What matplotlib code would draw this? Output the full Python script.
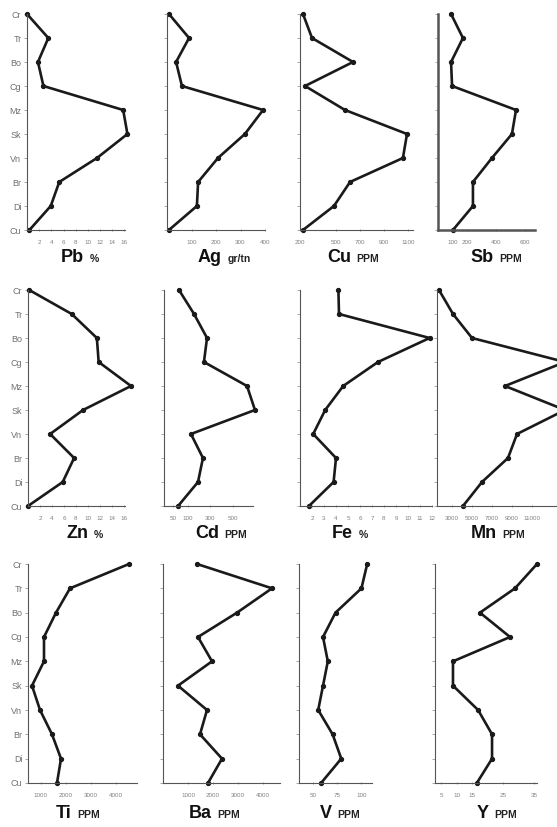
#Geochemical profiles of 12 elements across the stratigraphic levels
import numpy as np; import matplotlib.pyplot as plt
from matplotlib.offsetbox import TextArea, HPacker, AnnotationBbox

plt.rcParams['font.family'] = ['Liberation Sans', 'DejaVu Sans']

#Data
levels = ['Cr', 'Tr', 'Bo', 'Cg', 'Mz', 'Sk', 'Vn', 'Br', 'Di', 'Cu']
pb = [0, 3.5, 1.8, 2.7, 15.8, 16.5, 11.5, 5.3, 3.9, 0.4]
ag = [8, 90, 37, 61, 392, 318, 208, 127, 122, 8]
cu = [225, 300, 642, 242, 575, 1092, 1058, 617, 483, 225]
sb = [90, 172, 90, 97, 538, 510, 372, 241, 241, 103]
zn = [0.2, 7.3, 11.5, 11.8, 17.2, 9.2, 3.7, 7.7, 5.8, 0]
cd = [70, 155, 273, 245, 622, 691, 127, 236, 191, 67]
fe = [4.2, 4.25, 11.8, 7.5, 4.6, 3.1, 2.1, 4.0, 3.8, 1.75]
mn = [1700, 3100, 5000, 14300, 8300, 14300, 9500, 8600, 6000, 4100]
ti = [4540, 2180, 1620, 1140, 1140, 660, 980, 1460, 1820, 1660]
ba = [1360, 4360, 2960, 1400, 1960, 600, 1760, 1480, 2360, 1800]
v = [106, 100, 73, 60, 65, 60, 55, 70, 79, 58]
y = [35.9, 28.8, 17.5, 27.2, 8.8, 8.8, 16.9, 21.4, 21.4, 16.5]

#x ticks
pb_ticks = [2, 4, 6, 8, 10, 12, 14, 16]
ag_ticks = [100, 200, 300, 400]
cu_ticks = [200, 500, 700, 900, 1100]
sb_ticks = [100, 200, 400, 600]
zn_ticks = [2, 4, 6, 8, 10, 12, 14, 16]
cd_ticks = [50, 100, 300, 500]
fe_ticks = [2, 3, 4, 5, 6, 7, 8, 9, 10, 11, 12]
mn_ticks = [3000, 5000, 7000, 9000, 11000]
ti_ticks = [1000, 2000, 3000, 4000]
ba_ticks = [1000, 2000, 3000, 4000]
v_ticks = [50, 75, 100]
y_ticks = [5, 10, 15, 25, 35]

#the hand drawn Cd axis is not linear: value -> relative position
cd_scale_val = [0, 50, 100, 300, 500, 700]
cd_scale_pos = [0, 9, 24, 46, 69, 92]

W, H = 557, 827
fig = plt.figure(figsize=(W/100, H/100), dpi=100)

#(element, unit, values, ticks, xlim, box in px: left,right,top,bottom, title centre px)
panels = [
 ('Pb', '%', pb, pb_ticks, (0, 16.1), (27, 125, 14, 230), (80, 258)),
 ('Ag', 'gr/tn', ag, ag_ticks, (0, 400), (167, 265, 14, 230), (224, 258)),
 ('Cu', 'PPM', cu, cu_ticks, (200, 1142), (300, 413, 14, 230), (353, 258)),
 ('Sb', 'PPM', sb, sb_ticks, (0, 669), (438, 535, 14, 230), (496, 258)),
 ('Zn', '%', zn, zn_ticks, (0, 16.2), (28, 125, 290, 506), (85, 533)),
 ('Cd', 'PPM', cd, cd_ticks, (0, 674), (164, 253, 290, 506), (221, 533)),
 ('Fe', '%', fe, fe_ticks, (1, 12), (300, 432, 290, 506), (350, 533)),
 ('Mn', 'PPM', mn, mn_ticks, (1500, 13800), (437, 560, 290, 506), (498, 533)),
 ('Ti', 'PPM', ti, ti_ticks, (500, 4860), (28, 137, 564, 783), (78, 813)),
 ('Ba', 'PPM', ba, ba_ticks, (0, 4680), (163, 280, 564, 783), (214, 813)),
 ('V', 'PPM', v, v_ticks, (35, 111), (299, 372, 564, 783), (340, 813)),
 ('Y', 'PPM', y, y_ticks, (3, 35.9), (435, 537, 564, 783), (497, 813)),
]

for i, (el, unit, vals, ticks, xlim, box, tc) in enumerate(panels):
    l, r, t, b = box
    ax = fig.add_axes([l/W, 1-b/H, (r-l)/W, (b-t)/H])
    if el == 'Cd':
        ax.set_xscale('function', functions=(
            lambda x: np.interp(x, cd_scale_val, cd_scale_pos),
            lambda p: np.interp(p, cd_scale_pos, cd_scale_val)))
    ax.plot(vals, np.arange(len(levels)), color='#1a1a1a', lw=1.9,
            marker='o', ms=2.8, clip_on=False)
    ax.set_xlim(*xlim)
    ax.set_ylim(len(levels)-1, 0)
    ax.set_facecolor('none')
    for s in ['top', 'right']:
        ax.spines[s].set_visible(False)
    lw = 1.8 if el == 'Sb' else 0.8
    for s in ['left', 'bottom']:
        ax.spines[s].set_color('#555555')
        ax.spines[s].set_linewidth(lw)
    ax.set_yticks(np.arange(len(levels)))
    if i % 4 == 0:
        ax.set_yticklabels(levels)
    else:
        ax.set_yticklabels([])
    ax.tick_params(axis='y', length=2, width=0.6, color='#999999',
                   labelsize=6.5, labelcolor='#707070', pad=2)
    ax.set_xticks(ticks)
    ax.set_xticklabels([str(k) for k in ticks])
    ax.minorticks_off()
    ax.tick_params(axis='x', length=2, width=0.6, color='#888888', direction='inout',
                   labelsize=4.5, labelcolor='#808080', pad=6)

    #title: big bold element + small unit
    box_t = HPacker(children=[TextArea(el, textprops=dict(fontsize=13, fontweight='bold', color='#111111')),
                              TextArea(unit, textprops=dict(fontsize=7.5, fontweight='bold', color='#222222'))],
                    align='baseline', pad=0, sep=4)
    ab = AnnotationBbox(box_t, (tc[0]/W, 1-tc[1]/H), xycoords='figure fraction',
                        frameon=False, box_alignment=(0.5, 0.5))
    fig.add_artist(ab)

plt.savefig('out.png', dpi=100)
